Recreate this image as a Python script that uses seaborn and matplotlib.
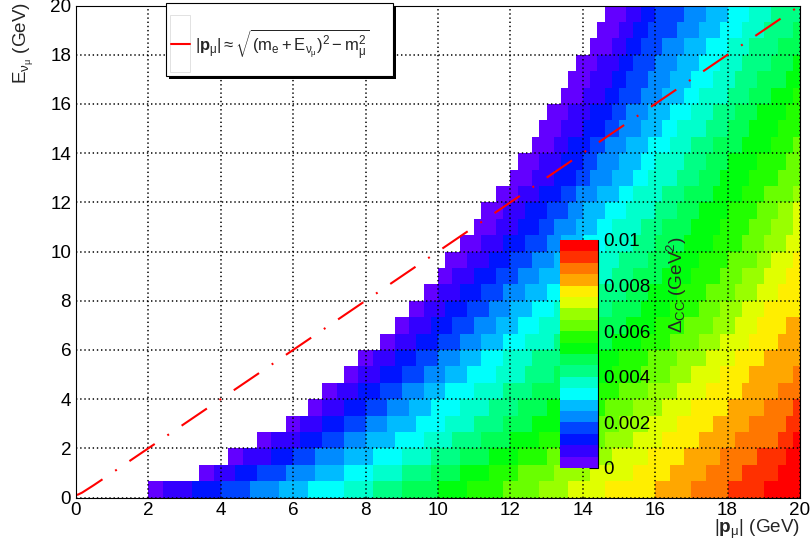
import colorsys

import numpy as np
import matplotlib
matplotlib.use("Agg")
import matplotlib.pyplot as plt
import seaborn as sns
from matplotlib.colors import ListedColormap
from matplotlib.lines import Line2D
from matplotlib.patches import Rectangle
from matplotlib.ticker import MultipleLocator, FixedLocator

# ---------------------------------------------------------------- data
# histogram binning: |p_mu| (x) and E_nu_mu (y), both 0-20 GeV
p_range = (0.0, 20.0)
e_range = (0.0, 20.0)
n_p_bins = 100
n_e_bins = 30

# Delta_CC contour levels (GeV^2)
z_step = 0.0005
z_max = 0.01

# For every E_nu bin (bottom to top): the |p_mu| value (GeV) where each
# successive Delta_CC level begins; cells left of the first entry are empty.
level_starts = [
    [2.0, 2.4, 3.2, 4.0, 4.8, 5.6, 6.4, 7.4, 8.2, 9.0, 10.0, 10.8, 11.8, 12.8, 13.6, 14.6, 16.0, 17.0, 18.0, 19.0],
    [3.4, 3.8, 4.4, 5.0, 5.8, 6.6, 7.4, 8.2, 9.0, 9.8, 10.6, 11.4, 12.2, 13.2, 14.2, 15.4, 16.4, 17.4, 18.4, 19.4],
    [4.2, 4.6, 5.4, 6.0, 6.6, 7.4, 8.2, 9.0, 9.8, 10.6, 11.4, 12.2, 13.0, 14.0, 14.8, 15.8, 16.8, 17.8, 18.8, 19.6],
    [5.0, 5.4, 6.2, 6.8, 7.4, 8.0, 8.8, 9.6, 10.4, 11.2, 12.0, 12.8, 13.6, 14.6, 15.4, 16.2, 17.2, 18.2, 19.4, 19.8],
    [5.8, 6.2, 6.8, 7.4, 8.0, 8.6, 9.4, 10.2, 11.0, 11.8, 12.6, 13.4, 14.2, 15.0, 15.8, 16.6, 17.6, 18.6, 19.6],
    [6.4, 6.8, 7.4, 8.0, 8.6, 9.2, 9.8, 10.6, 11.4, 12.2, 13.0, 13.8, 14.6, 15.4, 16.2, 17.0, 18.0, 19.0, 19.8],
    [6.8, 7.2, 7.8, 8.4, 9.0, 9.6, 10.2, 11.0, 11.8, 12.6, 13.4, 14.2, 15.0, 15.8, 16.6, 17.4, 18.4, 19.4],
    [7.4, 7.8, 8.4, 9.0, 9.6, 10.2, 10.8, 11.6, 12.4, 13.2, 14.0, 14.8, 15.6, 16.4, 17.0, 17.8, 18.6, 19.8],
    [7.8, 8.2, 8.8, 9.4, 10.0, 10.6, 11.2, 11.8, 12.6, 13.4, 14.2, 15.0, 15.8, 16.6, 17.4, 18.2, 19.0],
    [8.4, 8.8, 9.4, 10.0, 10.6, 11.2, 11.8, 12.4, 13.2, 14.0, 14.8, 15.6, 16.4, 17.2, 17.8, 18.6, 19.4],
    [8.8, 9.2, 9.8, 10.4, 11.0, 11.6, 12.2, 12.8, 13.6, 14.4, 15.2, 16.0, 16.8, 17.6, 18.2, 18.8, 19.6],
    [9.2, 9.6, 10.2, 10.8, 11.4, 12.0, 12.6, 13.2, 14.0, 14.8, 15.6, 16.4, 17.2, 17.8, 18.4, 19.0],
    [9.6, 10.0, 10.6, 11.2, 11.8, 12.4, 13.0, 13.6, 14.4, 15.2, 15.8, 16.6, 17.4, 18.2, 18.8, 19.4],
    [10.0, 10.4, 11.0, 11.6, 12.2, 12.8, 13.4, 14.0, 14.8, 15.4, 16.2, 17.0, 17.8, 18.4, 19.0, 19.6],
    [10.2, 10.8, 11.4, 12.0, 12.6, 13.2, 13.6, 14.2, 15.0, 15.8, 16.4, 17.2, 18.0, 18.8, 19.2, 19.8],
    [10.6, 11.2, 11.8, 12.4, 13.0, 13.4, 14.0, 14.6, 15.4, 16.0, 16.8, 17.6, 18.4, 19.0, 19.6],
    [11.0, 11.6, 12.2, 12.8, 13.2, 13.8, 14.4, 14.8, 15.6, 16.2, 17.0, 17.8, 18.6, 19.2, 19.8],
    [11.2, 11.8, 12.4, 13.0, 13.6, 14.0, 14.6, 15.2, 16.0, 16.6, 17.2, 18.0, 18.8, 19.4, 19.8],
    [11.6, 12.2, 12.8, 13.4, 13.8, 14.4, 15.0, 15.4, 16.2, 16.8, 17.6, 18.4, 19.0, 19.8],
    [12.0, 12.6, 13.2, 13.8, 14.2, 14.8, 15.4, 15.8, 16.6, 17.2, 17.8, 18.6, 19.4],
    [12.2, 12.8, 13.4, 14.0, 14.4, 15.0, 15.6, 16.0, 16.8, 17.4, 18.0, 18.8, 19.6],
    [12.6, 13.2, 13.6, 14.2, 14.6, 15.2, 15.8, 16.4, 17.0, 17.6, 18.4, 19.2, 19.8],
    [12.8, 13.4, 14.0, 14.6, 15.0, 15.6, 16.2, 16.6, 17.4, 18.0, 18.6, 19.4],
    [13.0, 13.6, 14.2, 14.8, 15.2, 15.8, 16.4, 17.0, 17.6, 18.2, 18.8, 19.6],
    [13.4, 14.0, 14.6, 15.0, 15.6, 16.2, 16.8, 17.2, 18.0, 18.6, 19.2, 19.8],
    [13.6, 14.2, 14.8, 15.2, 15.8, 16.4, 17.0, 17.6, 18.2, 18.8, 19.6],
    [13.8, 14.4, 15.0, 15.4, 16.0, 16.6, 17.2, 17.8, 18.4, 19.2, 19.8],
    [14.2, 14.8, 15.2, 15.6, 16.2, 16.8, 17.4, 18.0, 18.6, 19.4],
    [14.4, 15.0, 15.4, 15.8, 16.6, 17.2, 17.8, 18.4, 19.0, 19.8],
    [14.6, 15.2, 15.6, 16.0, 16.8, 17.4, 18.0, 18.6, 19.2],
]

# kinematic curve from the legend
m_e = 0.000511
m_mu = 0.10566
curve_E = [0.1057, 0.12, 0.2, 0.5, 1.0, 2.0, 5.0, 10.0, 15.0, 20.0]

axis_ticks = [0, 2, 4, 6, 8, 10, 12, 14, 16, 18, 20]
z_ticks = [0.0, 0.002, 0.004, 0.006, 0.008, 0.01]
z_tick_labels = ["0", "0.002", "0.004", "0.006", "0.008", "0.01"]

# ---------------------------------------------------------------- grid of cell values
p_width = (p_range[1] - p_range[0]) / n_p_bins
dcc = np.full((n_e_bins, n_p_bins), np.nan)
for j, starts in enumerate(level_starts):
    start_bins = np.rint((np.asarray(starts) - p_range[0]) / p_width).astype(int)
    for c in range(start_bins[0], n_p_bins):
        level = np.searchsorted(start_bins, c, side="right") - 1
        dcc[j, c] = (level + 0.5) * z_step

curve_p = np.sqrt((m_e + np.asarray(curve_E)) ** 2 - m_mu ** 2)

# ---------------------------------------------------------------- style
sns.set_theme(style="white")
plt.rcParams.update({
    "font.family": ["Liberation Sans", "DejaVu Sans"],
    "mathtext.fontset": "custom",
    "mathtext.rm": "Liberation Sans",
    "mathtext.it": "Liberation Sans:italic",
    "mathtext.bf": "Liberation Sans:bold",
    "mathtext.default": "regular",
    "lines.scale_dashes": False,
    "axes.edgecolor": "black",
    "axes.linewidth": 0.8,
})

# violet -> red "pretty" palette, 20 contour colours
n_levels = int(round(z_max / z_step))
palette = []
for k in range(n_levels):
    idx = int((k + 0.99) * 50 / n_levels)
    hue = 280.0 - (idx + 1) * 280.0 / 50
    palette.append(colorsys.hls_to_rgb(hue / 360.0, 0.5, 1.0))
cmap = ListedColormap(palette)

W, H = 812, 550
fig = plt.figure(figsize=(W / 100, H / 100), dpi=100)
fig.patch.set_facecolor("white")


def fx(px):
    return px / W


def fy(py):
    return 1 - py / H


frame = [fx(76), fy(497.5), fx(800) - fx(76), fy(5.5) - fy(497.5)]
cbar_rect = [fx(560), fy(468), fx(598) - fx(560), fy(240) - fy(468)]

ax_map = fig.add_axes(frame)
cax = fig.add_axes(cbar_rect)
sns.heatmap(dcc, ax=ax_map, cmap=cmap, vmin=0, vmax=z_max, cbar=True,
            cbar_ax=cax, xticklabels=False, yticklabels=False)
ax_map.set_xlim(0, n_p_bins)
ax_map.set_ylim(0, n_e_bins)
ax_map.set_axis_off()

# axes with physical units drawn on top of the map
ax = fig.add_axes(frame, facecolor="none")
ax.set_xlim(*p_range)
ax.set_ylim(*e_range)
for s in ax.spines.values():
    s.set_visible(True)
    s.set_color("black")
    s.set_linewidth(0.8)
ax.xaxis.set_major_locator(FixedLocator(axis_ticks))
ax.yaxis.set_major_locator(FixedLocator(axis_ticks))
ax.xaxis.set_minor_locator(MultipleLocator(0.5))
ax.yaxis.set_minor_locator(MultipleLocator(0.5))
ax.set_xticklabels([str(t) for t in axis_ticks])
ax.set_yticklabels([str(t) for t in axis_ticks])
ax.tick_params(axis="both", which="both", direction="in", colors="black",
               labelsize=13.6, width=0.8, top=False, right=False)
ax.tick_params(axis="x", which="major", length=10.6, pad=3)
ax.tick_params(axis="x", which="minor", length=5.3)
ax.tick_params(axis="y", which="major", length=15.6, pad=3.5)
ax.tick_params(axis="y", which="minor", length=7.8)
ax.grid(True, which="major", color="black", linewidth=1.1,
        linestyle=(0, (1.0, 2.0)))

ax.plot(curve_p, curve_E, color="#ff0000", linewidth=1.5,
        linestyle=(0, (22, 11, 1.4, 11)), solid_capstyle="butt")

# colour scale
cbar = ax_map.collections[0].colorbar
cbar.outline.set_visible(False)
cbar.set_ticks(z_ticks)
cbar.set_ticklabels(z_tick_labels)
cax.yaxis.set_minor_locator(MultipleLocator(0.001))
cax.tick_params(axis="y", which="both", direction="in", colors="black",
                labelsize=13.6, width=0.8, pad=4)
cax.tick_params(axis="y", which="major", length=6.5)
cax.tick_params(axis="y", which="minor", length=3.5)
cax.add_line(Line2D([1, 1], [0, 1], transform=cax.transAxes, color="black",
                    linewidth=0.8, clip_on=False))
cax.set_zorder(ax.get_zorder() + 1)

# axis titles
fig.text(fx(800), fy(533), r"$|\mathbf{p}_{\mu}|$ (GeV)", ha="right",
         va="baseline", fontsize=13.6)
fig.text(fx(12), fy(2), r"$E_{\nu_{\mu}}$ (GeV)", rotation=90, ha="left",
         va="top", fontsize=13.6)
fig.text(fx(665), fy(236), r"$\Delta_{CC}$ (GeV$^{2}$)", rotation=90,
         ha="left", va="top", fontsize=13.6)

# legend box with shadow
box_l, box_t, box_r, box_b = 166, 3, 393, 76
fig.add_artist(Rectangle((fx(box_l + 3), fy(box_b + 3)), fx(box_r - box_l),
                         fy(box_t) - fy(box_b), transform=fig.transFigure,
                         facecolor="black", edgecolor="none", zorder=10))
fig.add_artist(Rectangle((fx(box_l), fy(box_b)), fx(box_r - box_l),
                         fy(box_t) - fy(box_b), transform=fig.transFigure,
                         facecolor="white", edgecolor="black", linewidth=0.8,
                         zorder=11))
fig.add_artist(Rectangle((fx(170), fy(72)), fx(20), fy(15) - fy(72),
                         transform=fig.transFigure, facecolor="white",
                         edgecolor="#dddddd", linewidth=0.6, zorder=12))
fig.add_artist(Line2D([fx(171), fx(190)], [fy(44), fy(44)],
                      transform=fig.transFigure, color="#ff0000",
                      linewidth=1.5, zorder=13))
fig.text(fx(195), fy(45),
         r"$|\mathbf{p}_{\mu}| \approx \sqrt{(m_{e} + E_{\nu_{\mu}})^{2} - m_{\mu}^{2}}$",
         ha="left", va="center", fontsize=12, zorder=13)

fig.savefig("out.png", dpi=100, facecolor="white")
